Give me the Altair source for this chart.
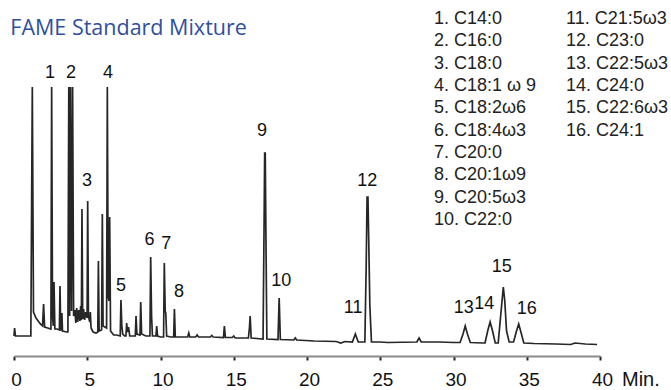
import altair as alt
import pandas as pd

# ---- chromatogram trace (minutes, detector response) ----
trace_minutes = [
    0.00, 0.04, 0.10, 1.15, 1.25, 1.33, 1.50, 1.80, 1.95, 2.02, 2.09, 2.30,
    2.52, 2.57, 2.63, 2.68, 2.73, 2.79, 2.95, 3.10, 3.14, 3.19, 3.23, 3.27,
    3.31, 3.60, 3.68, 3.74, 3.80, 3.86, 3.93, 4.00, 4.07, 4.15, 4.22, 4.28,
    4.35, 4.42, 4.50, 4.55, 4.60, 4.64, 4.69, 4.75, 4.82, 4.90, 4.99, 5.03,
    5.08, 5.17, 5.21, 5.26, 5.40, 5.60, 5.72, 5.76, 5.81, 5.98, 6.03, 6.08,
    6.32, 6.37, 6.43, 6.48, 6.53, 6.59, 6.80, 7.00, 7.25, 7.30, 7.36, 7.42,
    7.55, 7.64, 7.69, 7.75, 7.82, 7.90, 8.10, 8.28, 8.33, 8.39, 8.60, 8.65,
    8.71, 9.00, 9.28, 9.33, 9.39, 9.45, 9.69, 9.74, 9.80, 10.00, 10.21, 10.26,
    10.32, 10.36, 10.42, 10.70, 10.90, 10.95, 11.01, 11.40, 11.85, 11.93, 12.00, 12.40,
    12.50, 12.60, 13.40, 13.50, 13.60, 14.30, 14.36, 14.43, 14.90, 15.00, 15.10, 16.00,
    16.07, 16.12, 16.19, 17.00, 17.07, 17.11, 17.15, 17.19, 17.26, 18.02, 18.10, 18.18,
    19.10, 19.20, 19.30, 19.90, 20.50, 22.00, 22.30, 22.60, 23.10, 23.30, 23.50, 23.95,
    24.04, 24.10, 24.16, 24.22, 24.29, 24.40, 25.00, 25.50, 27.50, 27.65, 27.80, 29.00,
    30.00, 30.45, 30.65, 30.80, 30.95, 31.15, 32.00, 32.15, 32.35, 32.50, 32.65, 32.85,
    33.05, 33.25, 33.40, 33.50, 33.62, 33.80, 34.10, 34.30, 34.45, 34.60, 34.80, 35.50,
    37.00, 38.00, 38.30, 39.00, 39.80,
]
trace_response = [
    20, 28, 20, 20, 269, 44, 38, 32, 30, 52, 29, 28,
    27, 269, 40, 30, 74, 27, 27, 26, 70, 26, 26, 43,
    25, 24, 24, 269, 40, 269, 45, 269, 40, 46, 33, 48,
    34, 46, 35, 50, 36, 147, 37, 47, 36, 44, 38, 155,
    40, 34, 44, 28, 24, 23, 24, 95, 25, 26, 142, 30,
    28, 269, 60, 55, 139, 25, 21, 21, 20, 56, 30, 22,
    20, 20, 33, 24, 29, 20, 20, 20, 40, 22, 21, 54,
    22, 20, 20, 99, 40, 20, 20, 30, 20, 19, 19, 93,
    45, 43, 20, 19, 19, 47, 19, 19, 19, 23, 19, 19,
    21, 19, 19, 20.5, 19, 18.5, 30, 18.5, 18.5, 20, 18, 18,
    28, 40, 18, 17, 130, 203, 203, 130, 17, 16.5, 58, 16.5,
    16, 18, 16, 15.5, 15, 14.5, 13, 14.5, 14, 22, 14, 14,
    90, 159, 159, 110, 50, 14, 14, 13.5, 14, 18, 14, 14,
    13.5, 13.5, 22, 30, 22, 13.5, 13, 13, 26, 34, 26, 13,
    13, 45, 69, 55, 25, 14, 14, 25, 32, 24, 13, 12.5,
    12, 11.5, 13, 12, 11.5,
]

# ---- peak numbers and where they are written ----
peak_numbers = ["1", "2", "3", "4", "5", "6", "7", "8", "9", "10",
                "11", "12", "13", "14", "15", "16"]
peak_label_minutes = [2.46, 3.89, 4.98, 6.42, 7.30, 9.25, 10.40, 11.26, 16.93, 18.25,
                      23.15, 24.12, 30.70, 32.10, 33.30, 35.00]
peak_label_response = [283, 283, 175, 283, 70, 116, 112, 64, 225, 75,
                       48, 175, 48, 52, 89, 47]

# ---- compound key ----
compounds = ["1. C14:0", "2. C16:0", "3. C18:0", "4. C18:1 ω 9", "5. C18:2ω6",
             "6. C18:4ω3", "7. C20:0", "8. C20:1ω9", "9. C20:5ω3", "10. C22:0",
             "11. C21:5ω3", "12. C23:0", "13. C22:5ω3", "14. C24:0", "15. C22:6ω3",
             "16. C24:1"]

tick_values = [0, 5, 10, 15, 20, 25, 30, 35, 40]
title_text = "FAME Standard Mixture"
unit_text = "Min."

trace_df = pd.DataFrame({"t": trace_minutes, "r": trace_response})
peaks_df = pd.DataFrame({"label": peak_numbers, "t": peak_label_minutes,
                         "r": peak_label_response})

# key laid out in two columns of ten rows (positions in data units)
key_cols = [28.67, 37.68]
key_top = 337.0
key_step = 22.33
key_df = pd.DataFrame({
    "label": compounds,
    "t": [key_cols[i // 10] for i in range(len(compounds))],
    "r": [key_top - (i % 10) * key_step for i in range(len(compounds))],
})
title_df = pd.DataFrame({"label": [title_text], "t": [-0.25], "r": [327.0]})
unit_df = pd.DataFrame({"label": [unit_text], "t": [40.0]})

xs = alt.Scale(domain=[0, 40], nice=False)
ys = alt.Scale(domain=[0, 356], nice=False, zero=True)

x_axis = alt.Axis(
    values=tick_values, title=None, grid=False,
    domainColor="#8a8a8a", domainWidth=2,
    tickColor="#222222", tickWidth=2, tickSize=4,
    labelFont="Liberation Sans", labelFontSize=19, labelColor="#111111",
    labelPadding=10, labelOffset=2, labelFlush=False,
)

trace = alt.Chart(trace_df).mark_line(
    color="#262626", strokeWidth=1.7, interpolate="linear", clip=False
).encode(
    x=alt.X("t:Q", scale=xs, axis=x_axis),
    y=alt.Y("r:Q", scale=ys, axis=None),
)

peak_text = alt.Chart(peaks_df).mark_text(
    font="Liberation Sans", fontSize=18, color="#111111",
    align="center", baseline="middle"
).encode(x=alt.X("t:Q", scale=xs), y=alt.Y("r:Q", scale=ys), text="label:N")

key_text = alt.Chart(key_df).mark_text(
    font="Liberation Sans", fontSize=18, color="#222222",
    align="left", baseline="middle"
).encode(x=alt.X("t:Q", scale=xs), y=alt.Y("r:Q", scale=ys), text="label:N")

title_mark = alt.Chart(title_df).mark_text(
    font="Open Sans", fontSize=21.5, color="#2f4f9e",
    align="left", baseline="middle"
).encode(x=alt.X("t:Q", scale=xs), y=alt.Y("r:Q", scale=ys), text="label:N")

unit_mark = alt.Chart(unit_df).mark_text(
    font="Liberation Sans", fontSize=20, color="#111111",
    align="left", baseline="top", dx=22, dy=14
).encode(x=alt.X("t:Q", scale=xs), y=alt.value(356), text="label:N")

chart = alt.layer(trace, peak_text, key_text, title_mark, unit_mark).properties(
    width=586, height=356,
    autosize=alt.AutoSizeParams(type="none"),
    padding={"left": 14, "top": 0, "right": 71, "bottom": 34},
    background="white",
).configure_view(stroke=None)

chart.save("out.html", embed_options={"renderer": "svg", "actions": False})
